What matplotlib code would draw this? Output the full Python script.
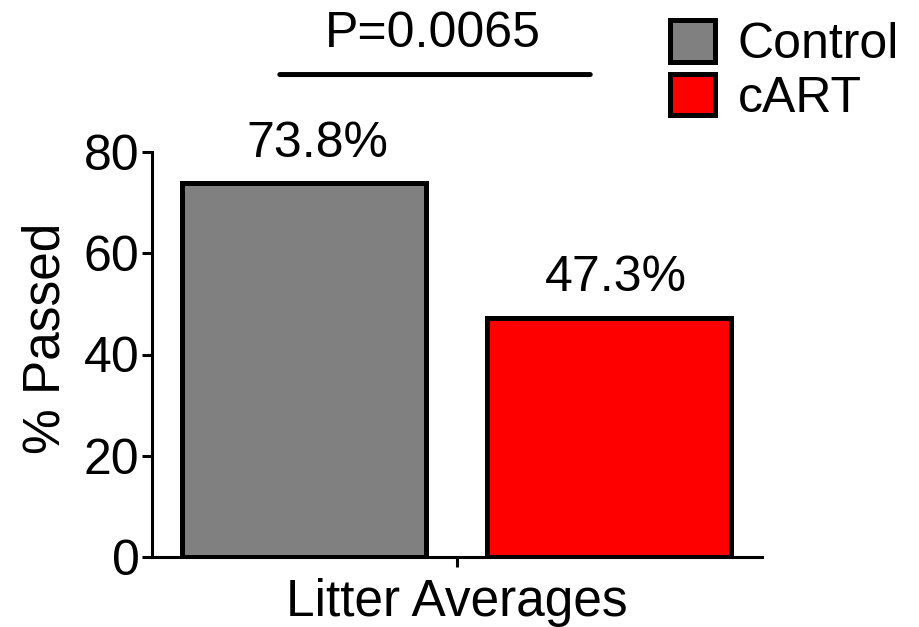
import matplotlib
matplotlib.use("Agg")
import matplotlib.pyplot as plt
from matplotlib.patches import Patch

plt.rcParams['font.family'] = ['Liberation Sans', 'DejaVu Sans']

groups = ["Control", "cART"]
values = [73.8, 47.3]
value_labels = ["73.8%", "47.3%"]
colors = ["#808080", "#ff0000"]
category = "Litter Averages"
p_text = "P=0.0065"
y_ticks = [0, 20, 40, 60, 80]

fig = plt.figure(figsize=(9.2, 6.27), dpi=100)
ax = fig.add_axes([152 / 920, 70 / 627, 610 / 920, 405 / 627])

positions = [0.25, 0.75]
bars = ax.bar(positions, values, width=0.4, color=colors, edgecolor="black",
              linewidth=3.6, joinstyle="miter", label=groups, zorder=3)

# value labels sit a little to the right of each bar's centre
label_shift_pt = [9, 4.5]
for x, v, lab, dx in zip(positions, values, value_labels, label_shift_pt):
    ax.annotate(lab, xy=(x, v + 5.3), xytext=(dx, 0), textcoords="offset points",
                ha="center", va="baseline", fontsize=36)

ax.set_xlim(0, 1)
ax.set_ylim(0, 80)
ax.set_yticks(y_ticks)
ax.set_xticks([0.5])
ax.set_xticklabels([category])
ax.set_ylabel("% Passed", fontsize=37)
ax.yaxis.set_label_coords(-0.133, 0.541)
ax.tick_params(axis="both", labelsize=36, width=2.2, length=7, direction="out", pad=2)
ax.tick_params(axis="x", labelsize=37, pad=8)

for side in ("top", "right"):
    ax.spines[side].set_visible(False)
for side in ("left", "bottom"):
    ax.spines[side].set_linewidth(2.2)

# significance bar between the groups
ax.annotate("", xy=(0.205, 95.3), xytext=(0.723, 95.3), xycoords="data",
            arrowprops=dict(arrowstyle="-", lw=3.6, color="black"),
            annotation_clip=False)
ax.text(0.46, 100.7, p_text, ha="center", va="baseline", fontsize=36, clip_on=False)

handles = [Patch(facecolor=c, edgecolor="black", linewidth=3.6) for c in colors]
fig.legend(handles, groups, loc="upper left", bbox_to_anchor=(670 / 920, 1 - 20 / 627),
           frameon=False, fontsize=36, handlelength=0.9, handleheight=0.9,
           handletextpad=0.45, labelspacing=0.11, borderpad=0, borderaxespad=0)

fig.savefig("out.png", dpi=100)
